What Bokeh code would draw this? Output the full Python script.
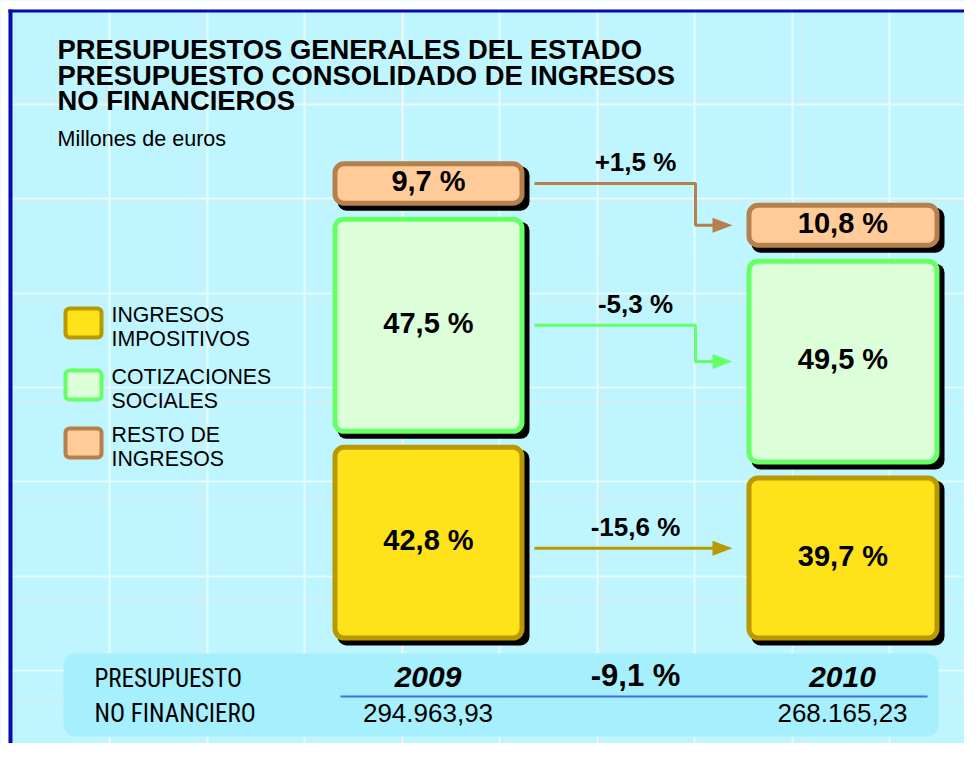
from bokeh.plotting import figure
from bokeh.models import Range1d, FixedTicker, Grid
from bokeh.core.properties import value
from bokeh.embed import file_html
from bokeh.resources import INLINE

# ---------------- data ----------------
years = ["2009", "2010"]
totals = [294963.93, 268165.23]          # millones de euros
total_change = -9.1
category_lines = [("INGRESOS", "IMPOSITIVOS"), ("COTIZACIONES", "SOCIALES"), ("RESTO DE", "INGRESOS")]
shares_2009 = [42.8, 47.5, 9.7]
shares_2010 = [39.7, 49.5, 10.8]
changes = [-15.6, -5.3, 1.5]
title_lines = ["PRESUPUESTOS GENERALES DEL ESTADO",
               "PRESUPUESTO CONSOLIDADO DE INGRESOS",
               "NO FINANCIEROS"]
subtitle = "Millones de euros"
panel_lines = ["PRESUPUESTO", "NO FINANCIERO"]

# ---------------- style ----------------
FONT = "Liberation Sans"
NARROW = "'Roboto Condensed', 'Liberation Sans'"
BG = "#bff5fe"
BLUE = "#0a0ab4"
FILLS = ["#ffe31a", "#dcffda", "#ffcc99"]
LINES = ["#b89a00", "#66ff66", "#b5804c"]

def pct(v, sign=False):
    s = f"{v:+.1f}" if sign else f"{v:.1f}"
    return s.replace(".", ",") + " %"

def eur(v):
    return f"{v:,.2f}".replace(",", "X").replace(".", ",").replace("X", ".")

W, H = 964, 743
p = figure(width=W, height=H, x_range=Range1d(0, W), y_range=Range1d(H, 0),
           output_backend="svg", toolbar_location=None, min_border=0,
           x_axis_location=None, y_axis_location=None,
           background_fill_color=BG, border_fill_color="white", outline_line_color=None)
p.add_layout(Grid(dimension=0, ticker=FixedTicker(ticks=[11.5 + 97.5 * k for k in range(1, 10)]),
                  grid_line_color="#e2fcff", grid_line_width=2))
p.add_layout(Grid(dimension=1, ticker=FixedTicker(ticks=[9.7 + 94.3 * k for k in range(1, 8)]),
                  grid_line_color="#e2fcff", grid_line_width=2))

def label(x, baseline, txt, size, font=FONT, style="normal", align="left"):
    # place text so that its alphabetic baseline sits at `baseline`
    p.text(x=x, y=baseline - 0.39 * size, text=[txt], text_font=value(font),
           text_font_style=style, text_font_size=f"{size}px", text_color="black",
           text_align=align, text_baseline="alphabetic")

# frame (white page margin, then blue rule at top and left)
p.quad(left=0, right=W, top=0, bottom=9, fill_color="white", line_color=None)
p.quad(left=0, right=8, top=0, bottom=H, fill_color="white", line_color=None)
p.quad(left=8, right=12, top=9, bottom=H, fill_color=BLUE, line_color=None)
p.quad(left=8, right=W, top=9, bottom=12, fill_color=BLUE, line_color=None)

# titles
for i, t in enumerate(title_lines):
    label(57, 60 + 25.5 * i, t, 27.4, style="bold")
label(57, 147, subtitle, 21.5)

# legend
for i, (l1, l2) in enumerate(category_lines):
    top = [306, 368, 426][i]
    p.quad(left=65, right=101, top=top + 2, bottom=top + 31, fill_color=FILLS[i],
           line_color=LINES[i], line_width=4, border_radius=4)
    label(111, top + 17, l1, 21.3)
    label(111, top + 41, l2, 21.3)

# stacked boxes, proportional to the amounts
SCALE = 0.00155   # px per million euros
GAP = 11
BASE = 640
cols = [(332, 524), (746, 939)]
shares = [shares_2009, shares_2010]
centers = []
for j in range(2):
    L, R = cols[j]
    bottom = BASE
    cs = []
    for i in range(3):
        h = totals[j] * shares[j][i] / 100 * SCALE
        top = bottom - h
        p.quad(left=L + 5, right=R + 5, top=top + 5, bottom=bottom + 5, fill_color="black",
               line_color=None, border_radius=9)
        p.quad(left=L + 2.5, right=R - 2.5, top=top + 2.5, bottom=bottom - 2.5,
               fill_color=FILLS[i], line_color=LINES[i], line_width=5, border_radius=9)
        c = (top + bottom) / 2
        label((L + R) / 2, c + 9, pct(shares[j][i]), 29, style="bold", align="center")
        cs.append(c)
        bottom = top - GAP
    centers.append(cs)

# arrows
X0, XM, XT = 534, 695, 732
for i in range(3):
    y0, y1 = centers[0][i], centers[1][i]
    if abs(y1 - y0) < 20:
        y0 = y1 = (y0 + y1) / 2 - 2
        xs, ys = [X0, XT - 10], [y0, y1]
    else:
        xs, ys = [X0, XM, XM, XT - 10], [y0, y0, y1, y1]
    p.line(xs, ys, line_color=LINES[i], line_width=3)
    p.patch([XT - 20, XT, XT - 20], [y1 - 7.5, y1, y1 + 7.5], fill_color=LINES[i], line_color=None)
    label(635, y0 - 11, pct(changes[i], sign=True), 26, style="bold", align="center")

# bottom panel
p.quad(left=63, right=938, top=653, bottom=736, fill_color="#a6effd", line_color=None, border_radius=12)
for i, t in enumerate(panel_lines):
    label(94, 688 + 35 * i, t, 25, font=NARROW)
p.line([340, 927], [696, 696], line_color="#3a70e8", line_width=2)
for j in range(2):
    cx = [427.5, 842][j]
    label(cx, 688, years[j], 30, style="bold italic", align="center")
    label(cx, 723, eur(totals[j]), 26, align="center")
label(635, 687, pct(total_change), 31, style="bold", align="center")

open("out.html", "w").write(file_html(p, INLINE))
